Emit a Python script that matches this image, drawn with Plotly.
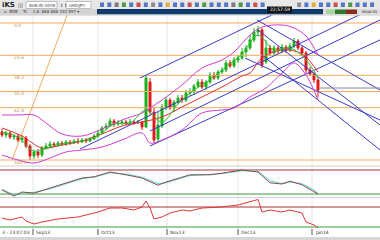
import plotly.graph_objects as go

W, H = 380, 240
def px(x): return x / W
def py(y): return 1 - y / H

# ---------------- data ----------------
idx = list(range(80))
opens = [118,115,117,113,114,110,112,104,94,98,95,102,104,106,105,107,106,108,107,109,
         108,110,109,111,114,117,122,124,129,126,127,128,127,128,127,128,123,168,138,111,
         124,143,150,142,148,152,150,157,158,164,168,163,168,175,172,178,180,187,184,190,
         192,198,202,210,218,220,188,202,197,202,199,203,200,204,209,202,197,180,176,170]
closes = [115,117,113,114,110,112,104,94,98,95,102,104,106,105,107,106,108,107,109,108,
          110,109,111,114,117,122,124,129,126,127,128,127,128,127,128,123,172,138,110,125,
          143,150,142,148,152,150,157,158,164,168,163,168,175,172,178,180,187,184,190,192,
          198,202,210,218,220,185,202,197,202,199,203,200,204,209,202,197,180,176,170,160]
highs = [121,119,119,116,116,115,114,106,100,101,104,107,109,108,109,109,110,110,111,112,
         112,112,113,116,120,124,127,132,131,130,130,130,131,130,130,129,175,172,142,138,
         146,153,152,150,155,155,160,162,166,171,171,170,178,178,180,183,190,190,193,195,
         202,205,215,222,224,222,210,205,205,204,206,205,207,212,211,204,199,183,178,172]
lows = [113,112,111,110,108,107,102,90,91,92,93,100,102,103,103,104,104,105,106,106,
        107,107,108,110,112,116,120,123,123,124,125,125,125,125,126,120,122,135,107,108,
        122,140,140,139,146,147,148,154,155,162,161,160,166,170,170,176,178,182,182,187,
        190,193,200,208,214,182,186,194,195,196,197,197,198,202,200,195,177,174,167,153]

ma_x = [0,5,10,15,20,25,30,35,40,45,50,55,60,62,65,70,75,79]
ma_red = [122,114,102,105,109,116,124,128,133,143,153,163,174,177,192,200,196,178]
fast_x = [0,4,8,12,16,20,24,28,32,36,40,44,48,52,56,60,64,68,72,76,79]
fast_green = [118,113,99,103,107,109,114,126,127,140,128,146,160,170,183,196,215,200,202,190,172]

bb_up_x = [0,4,8,11,15,20,25,30,35,37,40,45,50,55,58,62,65,70,73,76,79]
bb_up = [135,135,135,127,116,114,121,130,137,142,150,165,182,190,198,215,223,225,222,214,195]
bb_lo_x = [0,4,8,12,16,20,25,30,35,37,40,45,50,55,58,62,66,70,73,76,79]
bb_lo = [95,90,87,92,98,100,103,110,117,107,110,120,137,140,142,153,162,177,187,175,150]

fib_ratios = [0.0, 0.236, 0.382, 0.5, 0.618, 1.0]
fib_labels = ["0.0", "23.6", "38.2", "50.0", "61.8", "100.0"]
fib_high, fib_low = 227, 90
fib_diag = [(2.5, 90), (16.3, 235)]

# drawing-tool lines (index, price) anchor pairs
rising_lines = [[(34.5, 172), (80, 259)],
                [(19.5, 101), (95, 246)],
                [(37, 119), (95, 231)],
                [(37, 104), (95, 211)]]
falling_lines = [[(63.75, 230), (94.5, 160)],
                 [(64, 220), (94.5, 125)],
                 [(65, 195), (94.5, 100)],
                 [(60.75, 192), (94.5, 130)]]

stoch_x = [0,3,5,8,12,16,20,23,27,31,35,39,41,47,52,55,60,64,67,70,72,75,78,79]
stoch_k = [30,15,25,22,35,47,60,63,75,68,60,42,50,68,68,72,80,75,48,45,52,43,25,20]
stoch_d = [32,18,22,24,33,45,58,62,73,70,62,46,48,66,69,71,78,77,53,46,50,46,30,22]

osc2_x = [0,2,5,6,8,10,14,19,24,27,30,33,35,36,37,38,40,42,45,47,50,55,59,61,64,65,67,70,72,75,76,78,79]
osc2 = [48,44,50,42,36,40,46,50,60,68,68,64,70,82,68,46,50,58,64,62,68,70,74,78,85,60,64,60,64,58,40,34,28]

date_ticks = [7.75, 24, 41.25, 59, 77.5]
date_labels = ["Sep13", "Oct13", "Nov13", "Dec13", "Jan14"]

# ---------------- figure ----------------
fig = go.Figure()
FIB_C = "#f2ab62"
BLUE = "#3b3bc8"

for r in fib_ratios:
    lvl = fib_high - r * (fib_high - fib_low)
    fig.add_trace(go.Scatter(x=[-0.5, 94.5], y=[lvl, lvl], mode="lines",
                             line=dict(color=FIB_C, width=1), yaxis="y", hoverinfo="skip"))
fig.add_trace(go.Scatter(x=[p[0] for p in fib_diag], y=[p[1] for p in fib_diag], mode="lines",
                         line=dict(color=FIB_C, width=1), yaxis="y"))

for seg in rising_lines + falling_lines:
    fig.add_trace(go.Scatter(x=[p[0] for p in seg], y=[p[1] for p in seg], mode="lines",
                             line=dict(color=BLUE, width=1), yaxis="y"))

fig.add_trace(go.Scatter(x=[79.5, 94.5], y=[closes[-1] + 2, closes[-1] + 2], mode="lines",
                         line=dict(color="#8a8aa8", width=1), yaxis="y"))

fig.add_trace(go.Scatter(x=bb_up_x, y=bb_up, mode="lines", line=dict(color="#d43cd4", width=1, shape="spline"), yaxis="y"))
fig.add_trace(go.Scatter(x=bb_lo_x, y=bb_lo, mode="lines", line=dict(color="#d43cd4", width=1, shape="spline"), yaxis="y"))
fig.add_trace(go.Scatter(x=ma_x, y=ma_red, mode="lines", line=dict(color="#e03030", width=1, shape="spline"), yaxis="y"))
fig.add_trace(go.Scatter(x=fast_x, y=fast_green, mode="lines", line=dict(color="#30c030", width=1, shape="spline"), yaxis="y"))

fig.add_trace(go.Candlestick(x=idx, open=opens, high=highs, low=lows, close=closes,
                             increasing=dict(line=dict(color="#18b018", width=1), fillcolor="#18b018"),
                             decreasing=dict(line=dict(color="#e01818", width=1), fillcolor="#e01818"),
                             whiskerwidth=0, yaxis="y"))

# oscillator panel
fig.add_trace(go.Scatter(x=[-0.5, 94.5], y=[80, 80], mode="lines", line=dict(color="#a83232", width=1), yaxis="y2"))
fig.add_trace(go.Scatter(x=[-0.5, 94.5], y=[20, 20], mode="lines", line=dict(color="#3c9a3c", width=1), yaxis="y2"))
fig.add_trace(go.Scatter(x=stoch_x, y=stoch_d, mode="lines", line=dict(color="#5fd6d6", width=1), yaxis="y2"))
fig.add_trace(go.Scatter(x=stoch_x, y=stoch_k, mode="lines", line=dict(color="#8a4a4a", width=1), yaxis="y2"))

# third panel
fig.add_trace(go.Scatter(x=[-0.5, 94.5], y=[70, 70], mode="lines", line=dict(color="#a83232", width=1), yaxis="y3"))
fig.add_trace(go.Scatter(x=[-0.5, 94.5], y=[30, 30], mode="lines", line=dict(color="#3c9a3c", width=1), yaxis="y3"))
fig.add_trace(go.Scatter(x=osc2_x, y=osc2, mode="lines", line=dict(color="#e03434", width=1), yaxis="y3"))

shapes = []
annos = []
# vertical grid
for t in date_ticks:
    gx = (t + 0.5) / 95
    shapes.append(dict(type="line", xref="paper", yref="paper", x0=gx, x1=gx, y0=py(229), y1=py(15),
                       line=dict(color="#e6e6e6", width=1), layer="below"))
    shapes.append(dict(type="line", xref="paper", yref="paper", x0=gx, x1=gx, y0=py(229), y1=py(235),
                       line=dict(color="#555", width=1)))
# panel separators
for yy in (166, 197.5):
    shapes.append(dict(type="line", xref="paper", yref="paper", x0=0, x1=1, y0=py(yy), y1=py(yy),
                       line=dict(color="#d0d0d0", width=1), layer="below"))
# bottom strip
shapes.append(dict(type="rect", xref="paper", yref="paper", x0=0, x1=1, y0=0, y1=py(237),
                   fillcolor="#d6d6d6", line=dict(width=0)))
# toolbar
shapes.append(dict(type="rect", xref="paper", yref="paper", x0=0, x1=1, y0=py(9), y1=1,
                   fillcolor="#e8e8e8", line=dict(width=0)))
shapes.append(dict(type="rect", xref="paper", yref="paper", x0=0, x1=px(97), y0=py(14.5), y1=py(9),
                   fillcolor="#d2d2d2", line=dict(width=0)))
shapes.append(dict(type="rect", xref="paper", yref="paper", x0=px(97), x1=px(323), y0=py(14.5), y1=py(9),
                   fillcolor="#0f3a6c", line=dict(width=0)))
shapes.append(dict(type="rect", xref="paper", yref="paper", x0=px(323), x1=1, y0=py(14.5), y1=py(9),
                   fillcolor="#dcdcdc", line=dict(width=0)))
for x0, x1, c in ((326, 335, "#a8d4a0"), (335, 346, "#2d7a2d"), (346, 357, "#8a2c1c")):
    shapes.append(dict(type="rect", xref="paper", yref="paper", x0=px(x0), x1=px(x1), y0=py(14), y1=py(9.5),
                       fillcolor=c, line=dict(width=0)))
shapes.append(dict(type="line", xref="paper", yref="paper", x0=0, x1=1, y0=py(15), y1=py(15),
                   line=dict(color="#c8c8c8", width=1)))
for x0, x1 in ((26, 57), (66, 91)):
    shapes.append(dict(type="rect", xref="paper", yref="paper", x0=px(x0), x1=px(x1), y0=py(8.5), y1=py(1.5),
                       fillcolor="#ffffff", line=dict(color="#9a9a9a", width=0.6)))
icon_cols = ["#3a62c0", "#3a62c0", "#6a6a6a", "#2e8a2e", "#3a62c0", "#c03434", "#3a62c0", "#7a7a7a",
             "#3a62c0", "#e0a020", "#3a62c0", "#3a62c0", "#c03434", "#3a62c0", "#2e8a2e", "#3a62c0"]
xi = 100
k = 0
while xi < 372:
    if not (262 <= xi <= 292):
        c = icon_cols[k % len(icon_cols)]
        shapes.append(dict(type="rect", xref="paper", yref="paper", x0=px(xi), x1=px(xi + 4), y0=py(7), y1=py(2.5),
                           fillcolor=c, line=dict(width=0), opacity=0.85))
        k += 1
    xi += 7.3
shapes.append(dict(type="rect", xref="paper", yref="paper", x0=px(267), x1=px(292), y0=py(13), y1=py(6.5),
                   fillcolor="#141414", line=dict(width=0)))

def T(x, y, s, size=5, color="#333", xa="left", bold=False):
    annos.append(dict(x=px(x), y=py(y), xref="paper", yref="paper", text=("<b>%s</b>" % s) if bold else s,
                      showarrow=False, xanchor=xa, yanchor="middle",
                      font=dict(size=size, color=color, family="DejaVu Sans")))

T(0, 5, "iKS", 7, "#222", bold=True)
T(16, 5, "|||", 5, "#444")
T(27, 5, "SUN-ID-30YN", 4, "#333")
T(58, 5, "↕ 1", 4, "#333")
T(67, 5, "USD/JPY", 4, "#333")
T(2, 11.8, "▫  BDB    TL    1.8  888 888 333 597 ▾", 4, "#333")
T(279.5, 9.8, "22:57:59", 4.5, "#ffffff", "center")
T(379, 11.8, "MAVA 65", 3.5, "#222", "right")
for r, lab in zip(fib_ratios, fib_labels):
    lvl = fib_high - r * (fib_high - fib_low)
    ypx = 165 - (lvl - 85) * 150 / 150
    T(12, ypx + 2.5, lab, 4.5, "#c89050")
T(0, 232.5, "3 - 23:07:03", 4.5, "#333")
for t, lab in zip(date_ticks, date_labels):
    T((t + 0.5) * 4 + 1, 232.5, lab, 4.5, "#333")

fig.update_layout(
    width=W, height=H, margin=dict(l=0, r=0, t=0, b=0),
    paper_bgcolor="#ffffff", plot_bgcolor="#ffffff", showlegend=False,
    xaxis=dict(range=[-0.5, 94.5], domain=[0, 1], anchor="y3", showticklabels=False, showgrid=False,
               zeroline=False, rangeslider=dict(visible=False), fixedrange=True),
    yaxis=dict(domain=[py(165), py(15)], range=[85, 235], visible=False, fixedrange=True),
    yaxis2=dict(domain=[py(197), py(167)], range=[12.5, 87.5], visible=False, fixedrange=True),
    yaxis3=dict(domain=[py(229), py(198)], range=[26, 88], visible=False, fixedrange=True),
    shapes=shapes, annotations=annos,
)
fig.write_html("out.html")
